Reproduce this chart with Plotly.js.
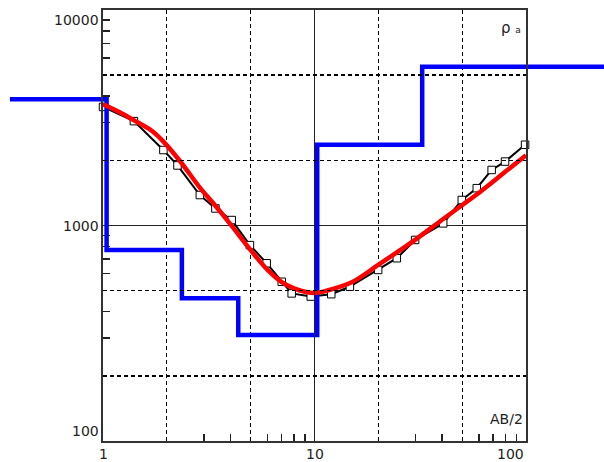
<!DOCTYPE html>
<html>
<head>
<meta charset="utf-8">
<script src="https://cdn.plot.ly/plotly-3.0.1.min.js"></script>
<style>
html,body{margin:0;padding:0;background:#fff;}
#chart{width:604px;height:462px;}
</style>
</head>
<body>
<div id="chart"></div>
<script>
// Observed apparent resistivity (AB/2, rho_a)
const abHalf = [1.0, 1.4, 1.93, 2.25, 2.87, 3.4, 4.06, 4.95, 5.94, 7.0, 7.8, 9.6, 12.0, 14.7, 20, 24.5, 29.9, 40.6, 49.7, 58.5, 68.8, 79.6, 99];
const rhoObs = [3550, 3050, 2240, 1900, 1385, 1200, 1060, 811, 668, 548, 484, 468, 480, 520, 622, 705, 857, 1023, 1313, 1490, 1810, 1980, 2370];

// Model (fitted) curve
const modelAB = [1, 1.2, 1.39, 1.7, 1.93, 2.31, 2.87, 3.4, 4, 5, 6, 7, 8, 9, 10, 11.4, 15, 20, 25, 30, 40, 50, 60, 70, 80, 90, 100];
const modelRho = [3650, 3350, 3090, 2750, 2450, 1992, 1500, 1235, 1015, 767, 622, 546, 511, 493, 486, 498, 545, 656, 760, 860, 1061, 1245, 1420, 1600, 1780, 1950, 2120];

// Layered model: layer start positions and resistivities (step line)
const layerStart = [0.363, 1.04, 2.36, 4.36, 10.3, 32.3, 300];
const layerRho = [3850, 770, 460, 310, 2370, 5460, 5460];

// Tick labels
const xTickVals = [1, 10, 100];
const xTickText = ['1', '10', '100'];
const yTickVals = [10000, 1000, 100];
const yTickText = ['10000', '1000', '100'];
const xGridDash = [2, 5, 20, 50];
const xGridSolid = [10];
const yGridDash = [200, 500, 2000, 5000];
const yGridSolid = [1000];
const xMinor = [3, 4, 6, 7, 8, 9, 30, 40, 60, 70, 80, 90];
const yMinor = [300, 400, 600, 700, 800, 900, 3000, 4000, 6000, 7000, 8000, 9000];

const W = 604;
const frameL = 103, frameR = 526;
const dec = (frameR - frameL) / 2;
const fullRange = [-frameL / dec, (W - frameL) / dec];

const FONT = {family: 'DejaVu Sans, Verdana, sans-serif', size: 14, color: '#222'};

const traces = [
  {x: [], y: [], xaxis: 'x3', yaxis: 'y', showlegend: false, hoverinfo: 'skip'},
  {x: [], y: [], xaxis: 'x4', yaxis: 'y', showlegend: false, hoverinfo: 'skip'},
  {x: [], y: [], xaxis: 'x', yaxis: 'y3', showlegend: false, hoverinfo: 'skip'},
  {x: [], y: [], xaxis: 'x', yaxis: 'y4', showlegend: false, hoverinfo: 'skip'},
  {
    x: abHalf, y: rhoObs, xaxis: 'x2', yaxis: 'y2', mode: 'lines+markers',
    line: {color: '#000', width: 2},
    marker: {symbol: 'square', size: 7.5, color: '#fff', line: {color: '#000', width: 1}},
    showlegend: false
  },
  {
    x: layerStart, y: layerRho, xaxis: 'x2', yaxis: 'y2', mode: 'lines',
    line: {color: '#0000ff', width: 4.5, shape: 'hv'}, showlegend: false
  },
  {
    x: modelAB, y: modelRho, xaxis: 'x2', yaxis: 'y2', mode: 'lines',
    line: {color: '#ff0000', width: 4.5, shape: 'spline', smoothing: 1}, showlegend: false
  }
];

const frameDomain = [frameL / W, frameR / W];
const gridCommon = {gridcolor: '#000', gridwidth: 1.3};

const layout = {
  width: 604, height: 462,
  margin: {l: 0, r: 0, t: 10, b: 21, pad: 0},
  paper_bgcolor: '#fff',
  plot_bgcolor: 'rgba(0,0,0,0)',
  showlegend: false,
  xaxis: Object.assign({
    domain: frameDomain, anchor: 'y', type: 'log', range: [0, 2],
    showline: true, mirror: true, linecolor: '#333', linewidth: 1.6,
    showgrid: true, griddash: '4px,3px', tickmode: 'array', tickvals: xGridDash,
    ticks: '', showticklabels: false, zeroline: false, fixedrange: true
  }, gridCommon),
  yaxis: Object.assign({
    domain: [0, 1], anchor: 'x', type: 'log', range: [2, 4],
    showline: true, mirror: true, linecolor: '#333', linewidth: 1.6,
    showgrid: true, griddash: '4px,3px', tickmode: 'array', tickvals: yGridDash,
    ticks: '', showticklabels: false, zeroline: false, fixedrange: true
  }, gridCommon),
  xaxis3: Object.assign({
    overlaying: 'x', anchor: 'y', type: 'log', range: [0, 2],
    showgrid: true, griddash: 'solid', tickmode: 'array', tickvals: xGridSolid,
    ticks: '', showticklabels: false, showline: false, zeroline: false
  }, {gridcolor: '#222', gridwidth: 1.3}),
  xaxis4: {
    overlaying: 'x', anchor: 'y', type: 'log', range: [0, 2], side: 'bottom',
    showgrid: false, tickmode: 'array', tickvals: xMinor,
    ticks: 'inside', ticklen: 7, tickwidth: 1.5, tickcolor: '#222',
    showticklabels: false, showline: false, zeroline: false
  },
  yaxis3: Object.assign({
    overlaying: 'y', anchor: 'x', type: 'log', range: [2, 4],
    showgrid: true, griddash: 'solid', tickmode: 'array', tickvals: yGridSolid,
    ticks: '', showticklabels: false, showline: false, zeroline: false
  }, {gridcolor: '#222', gridwidth: 1.3}),
  yaxis4: {
    overlaying: 'y', anchor: 'x', type: 'log', range: [2, 4], side: 'left',
    showgrid: false, tickmode: 'array', tickvals: yMinor,
    ticks: 'inside', ticklen: 7, tickwidth: 1.5, tickcolor: '#222',
    showticklabels: false, showline: false, zeroline: false
  },
  xaxis2: {
    domain: [0, 1], anchor: 'y2', type: 'log', range: fullRange, visible: false, fixedrange: true
  },
  yaxis2: {
    domain: [0, 1], anchor: 'x2', type: 'log', range: [2, 4], visible: false, fixedrange: true
  },
  annotations: []
};

// x tick labels
xTickVals.forEach((v, i) => {
  const last = i === xTickVals.length - 1;
  layout.annotations.push({
    xref: 'x', yref: 'paper', x: Math.log10(v), y: 0,
    xanchor: last ? 'right' : 'center', yanchor: 'top',
    yshift: -3,
    text: xTickText[i], showarrow: false, font: FONT
  });
});
// y tick labels
yTickVals.forEach((v, i) => {
  const shift = i === 0 ? -10 : (i === yTickVals.length - 1 ? 10 : 0);
  layout.annotations.push({
    xref: 'paper', yref: 'y', x: frameL / W, y: Math.log10(v),
    xanchor: 'right', yanchor: 'middle', xshift: -2, yshift: shift,
    text: yTickText[i], showarrow: false, font: FONT
  });
});
// axis names
layout.annotations.push({
  xref: 'x', yref: 'paper', x: 2, y: 0, xanchor: 'right', yanchor: 'middle',
  xshift: -1, yshift: 22, text: 'AB/2', showarrow: false, font: FONT
});
layout.annotations.push({
  xref: 'x', yref: 'paper', x: 2, y: 1, xanchor: 'right', yanchor: 'middle',
  xshift: -3, yshift: -18, text: 'ρ <span style="font-size:9px">a</span>', showarrow: false,
  font: {family: FONT.family, size: 15, color: '#222'}
});

Plotly.newPlot('chart', traces, layout, {staticPlot: true, displayModeBar: false});
</script>
</body>
</html>
